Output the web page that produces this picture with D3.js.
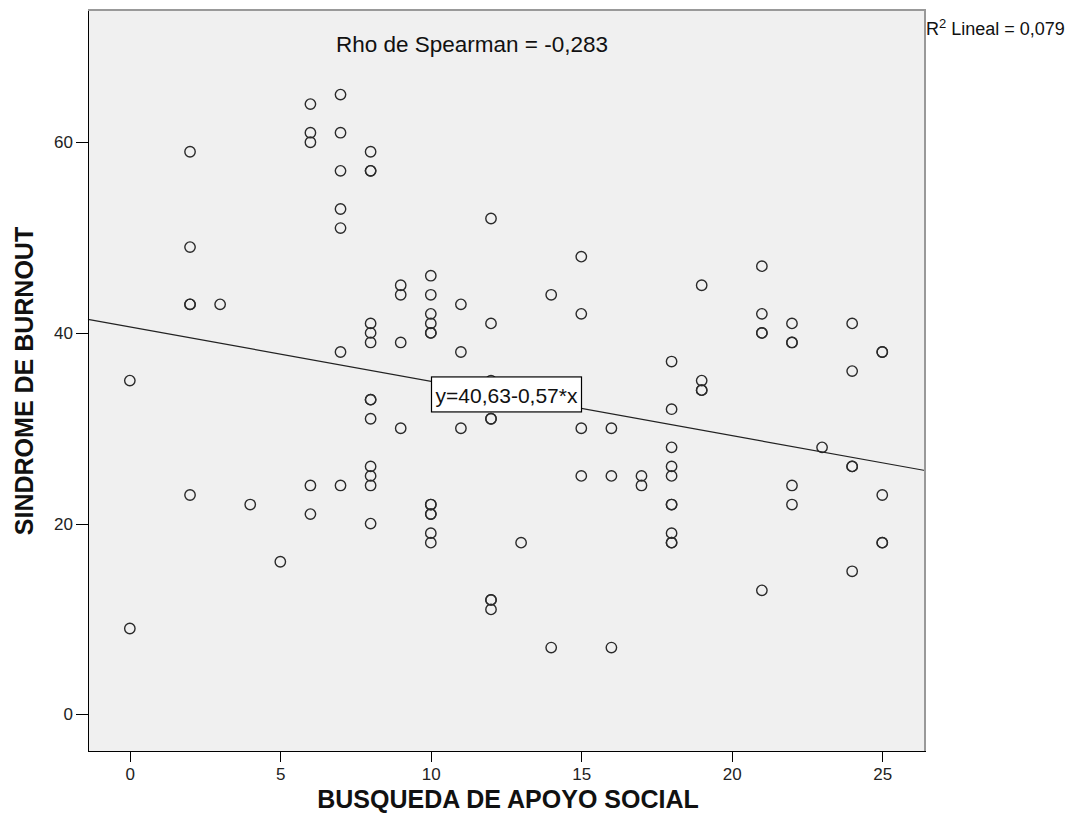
<!DOCTYPE html>
<html lang="es">
<head>
<meta charset="UTF-8">
<title>Burnout vs apoyo social</title>
<script src="https://d3js.org/d3.v7.min.js"></script>
<style>
  body { margin: 0; background: #fff; }
  svg text { font-family: "Liberation Sans", Arial, sans-serif; fill: #111; }
  .axis path, .axis line { stroke: #000; shape-rendering: crispEdges; }
  .axis text { font-family: "Liberation Sans Narrow", "Liberation Sans", Arial, sans-serif; font-size: 17px; fill: #222; }
  .title { font-weight: bold; font-size: 25px; }
</style>
</head>
<body>
<svg id="chart" width="1077" height="830"></svg>
<script>
// puntos: busqueda de apoyo social (x) y sindrome de burnout (y)
const apoyo = [
  0, 0,
  2, 2, 2, 2, 2,
  3, 4, 5,
  6, 6, 6, 6, 6,
  7, 7, 7, 7, 7, 7, 7,
  8, 8, 8, 8, 8, 8, 8, 8, 8, 8, 8, 8, 8,
  9, 9, 9, 9,
  10, 10, 10, 10, 10, 10, 10, 10, 10, 10, 10, 10,
  11, 11, 11,
  12, 12, 12, 12, 12, 12, 12, 12,
  13, 14, 14,
  15, 15, 15, 15,
  16, 16, 16,
  17, 17,
  18, 18, 18, 18, 18, 18, 18, 18, 18, 18,
  19, 19, 19, 19,
  21, 21, 21, 21, 21,
  22, 22, 22, 22, 22,
  23,
  24, 24, 24, 24, 24,
  25, 25, 25, 25, 25
];
const burnout = [
  35, 9,
  59, 49, 43, 43, 23,
  43, 22, 16,
  64, 61, 60, 24, 21,
  65, 61, 57, 53, 51, 38, 24,
  59, 57, 57, 41, 40, 39, 33, 33, 31, 26, 25, 24, 20,
  45, 44, 39, 30,
  46, 44, 42, 41, 40, 40, 22, 22, 21, 21, 19, 18,
  43, 38, 30,
  52, 41, 35, 31, 31, 12, 12, 11,
  18, 44, 7,
  48, 42, 30, 25,
  30, 25, 7,
  25, 24,
  37, 32, 28, 26, 25, 22, 22, 19, 18, 18,
  45, 35, 34, 34,
  47, 42, 40, 40, 13,
  41, 39, 39, 24, 22,
  28,
  41, 36, 26, 26, 15,
  38, 38, 23, 18, 18
];

const xTicks = [0, 5, 10, 15, 20, 25];
const yTicks = [0, 20, 40, 60];
const xDomain = [-1.39, 26.42];
const yDomain = [-3.85, 73.87];

const intercept = 40.63;
const slope = -0.57;

const xTitle = "BUSQUEDA DE APOYO SOCIAL";
const yTitle = "SINDROME DE BURNOUT";
const rhoText = "Rho de Spearman = -0,283";
const eqText = "y=40,63-0,57*x";
const r2Value = "Lineal = 0,079";

const margin = {top: 10, right: 152, bottom: 79, left: 88},
    width = 1077 - margin.left - margin.right,
    height = 830 - margin.top - margin.bottom;

const svg = d3.select("#chart");
const g = svg.append("g")
    .attr("transform", "translate(" + margin.left + "," + margin.top + ")");

const x = d3.scaleLinear().domain(xDomain).range([0, width]);
const y = d3.scaleLinear().domain(yDomain).range([height, 0]);

g.append("rect")
    .attr("width", width)
    .attr("height", height)
    .attr("fill", "#f0f0f0");

const points = apoyo.map((v, i) => ({x: v, y: burnout[i]}));

g.selectAll(".dot")
    .data(points)
    .join("circle")
    .attr("class", "dot")
    .attr("cx", d => x(d.x))
    .attr("cy", d => y(d.y))
    .attr("r", 5.2)
    .attr("fill", "none")
    .attr("stroke", "#2a2a2a")
    .attr("stroke-width", 1.4);

// linea de ajuste
const line = d3.line()
    .x(d => x(d))
    .y(d => y(intercept + slope * d));
g.append("path")
    .datum(xDomain)
    .attr("d", line)
    .attr("fill", "none")
    .attr("stroke", "#222")
    .attr("stroke-width", 1.2);

// marco superior y derecho
g.append("path")
    .attr("d", "M0,0H" + width + "V" + height)
    .attr("fill", "none")
    .attr("stroke", "#999")
    .attr("stroke-width", 2);

g.append("g")
    .attr("class", "axis")
    .attr("transform", "translate(0," + height + ")")
    .call(d3.axisBottom(x).tickValues(xTicks).tickSize(11).tickPadding(6).tickSizeOuter(0));

g.append("g")
    .attr("class", "axis")
    .call(d3.axisLeft(y).tickValues(yTicks).tickSize(12).tickPadding(3).tickSizeOuter(0));

g.selectAll(".axis .domain").attr("stroke-width", 1.5);

// etiqueta de la ecuacion
const midX = (xDomain[0] + xDomain[1]) / 2;
const lab = g.append("g")
    .attr("transform", "translate(" + x(midX) + "," + y(intercept + slope * midX) + ")");
lab.append("rect")
    .attr("x", -75).attr("y", -18)
    .attr("width", 150).attr("height", 35)
    .attr("fill", "#fff")
    .attr("stroke", "#000")
    .attr("stroke-width", 1.2);
lab.append("text")
    .attr("text-anchor", "middle")
    .attr("y", 8)
    .style("font-size", "21px")
    .text(eqText);

svg.append("text")
    .attr("x", 336)
    .attr("y", 52)
    .style("font-size", "22.5px")
    .text(rhoText);

const r2 = svg.append("text")
    .attr("x", 926)
    .attr("y", 35)
    .style("font-size", "18px");
r2.append("tspan").text("R");
r2.append("tspan").attr("dy", -7).style("font-size", "13px").text("2");
r2.append("tspan").attr("dy", 7).text(" " + r2Value);

svg.append("text")
    .attr("class", "title")
    .attr("text-anchor", "middle")
    .attr("x", 508)
    .attr("y", 808)
    .text(xTitle);

svg.append("text")
    .attr("class", "title")
    .attr("text-anchor", "middle")
    .attr("transform", "translate(33,381) rotate(-90)")
    .text(yTitle);
</script>
</body>
</html>
